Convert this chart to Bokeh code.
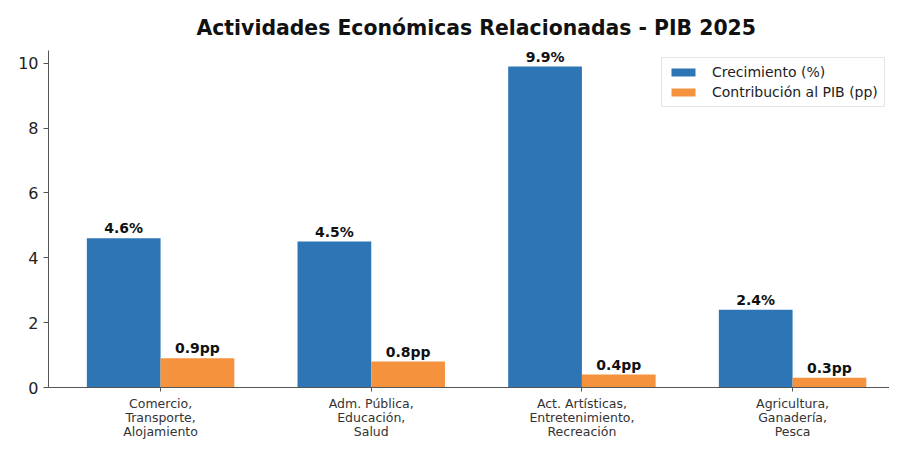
from bokeh.plotting import figure
from bokeh.models import Range1d, FixedTicker, ColumnDataSource, Legend, LegendItem, LinearAxis
from bokeh.core.properties import value
from bokeh.embed import file_html
from bokeh.resources import INLINE

categories = ["Comercio,\nTransporte,\nAlojamiento",
              "Adm. Pública,\nEducación,\nSalud",
              "Act. Artísticas,\nEntretenimiento,\nRecreación",
              "Agricultura,\nGanadería,\nPesca"]
crecimiento = [4.6, 4.5, 9.9, 2.4]
contribucion = [0.9, 0.8, 0.4, 0.3]
y_ticks = [0, 2, 4, 6, 8, 10]

BLUE = "#2E75B6"
ORANGE = "#F5923E"
FONT = "DejaVu Sans"
W = 0.35

xs = list(range(len(categories)))
src_a = ColumnDataSource(dict(x=[i - W / 2 for i in xs], top=crecimiento,
                              lab=[f"{v:.1f}%" for v in crecimiento]))
src_b = ColumnDataSource(dict(x=[i + W / 2 for i in xs], top=contribucion,
                              lab=[f"{v:.1f}pp" for v in contribucion]))

p = figure(width=889, height=441, output_backend="svg", toolbar_location=None,
           x_range=Range1d(-0.532, 3.46), y_range=Range1d(0, 9.9 * 1.05),
           x_axis_location=None,
           min_border_left=48, min_border_right=0, min_border_bottom=40, min_border_top=50)

p.title.text = "Actividades Económicas Relacionadas - PIB 2025"
p.title.align = "left"
p.title.offset = 148
p.title.text_font = FONT
p.title.text_font_size = "20.4px"
p.title.text_font_style = "bold"
p.title.text_color = "#111111"
p.title.standoff = 22

r1 = p.vbar(x="x", top="top", width=W, source=src_a, fill_color=BLUE, line_color=None)
r2 = p.vbar(x="x", top="top", width=W, source=src_b, fill_color=ORANGE, line_color=None)

for s in (src_a, src_b):
    p.text(x="x", y="top", text="lab", source=s, text_align="center",
           text_baseline="bottom", y_offset=-2, text_font=value(FONT),
           text_font_size="14px", text_font_style="bold", text_color="#111111")

p.xgrid.visible = False
p.ygrid.visible = False
p.outline_line_color = None

# x axis: one stacked axis per label line, so the three lines sit tightly together
lines = [c.split("\n") for c in categories]
for k in range(3):
    ax = LinearAxis(ticker=FixedTicker(ticks=xs),
                    major_label_overrides={i: lines[i][k] for i in xs})
    ax.major_label_text_font = FONT
    ax.major_label_text_font_size = "12.5px"
    ax.major_label_text_color = "#333333"
    ax.minor_tick_line_color = None
    if k == 0:
        ax.axis_line_color = "#555555"
        ax.major_tick_line_color = "#555555"
        ax.major_tick_in = 0
        ax.major_tick_out = 4
        ax.major_label_standoff = 4
    else:
        ax.axis_line_color = None
        ax.major_tick_line_color = None
        ax.major_tick_in = 0
        ax.major_tick_out = 0
        ax.major_label_standoff = -4
    p.add_layout(ax, "below")

p.yaxis.ticker = FixedTicker(ticks=y_ticks)
p.yaxis.major_label_text_font = FONT
p.yaxis.major_label_text_font_size = "16px"
p.yaxis.major_label_text_color = "#222222"
p.yaxis.major_tick_in = 0
p.yaxis.major_tick_out = 5
p.yaxis.minor_tick_line_color = None
p.yaxis.axis_line_color = "#555555"
p.yaxis.major_tick_line_color = "#555555"
p.yaxis.major_label_standoff = 5

legend = Legend(items=[LegendItem(label="Crecimiento (%)", renderers=[r1]),
                       LegendItem(label="Contribución al PIB (pp)", renderers=[r2])],
                location=(613, 280))
legend.margin = 0
legend.padding = 6
legend.spacing = 4
legend.glyph_width = 30
legend.glyph_height = 10
legend.label_text_font = FONT
legend.label_text_font_size = "14px"
legend.label_text_color = "#222222"
legend.label_standoff = 14
legend.label_height = 16
legend.border_line_color = "#cccccc"
legend.border_line_width = 1
legend.background_fill_alpha = 0.9
p.add_layout(legend)

open("out.html", "w").write(file_html(p, INLINE))
